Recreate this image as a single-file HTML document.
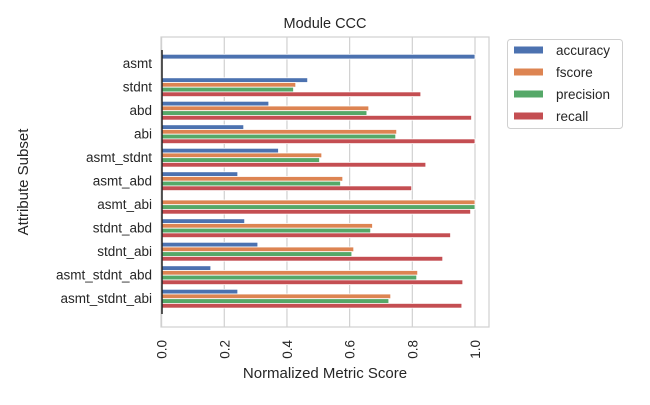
<!DOCTYPE html>
<html><head><meta charset="utf-8"><style>
body{margin:0;background:#fff;}
svg text{font-family:"Liberation Sans",Arial,sans-serif;fill:#262626;}
</style></head><body>
<svg id="c" width="650" height="400" xmlns="http://www.w3.org/2000/svg">
<text x="325" y="28" font-size="14.5" text-anchor="middle">Module CCC</text>
<rect x="161" y="37" width="328" height="290" fill="none" stroke="#d0d0d0" stroke-width="1.2"/>
<g id="grid"></g><g id="bars"></g><g id="ylab"></g><g id="xlab"></g>
<line x1="162" y1="50" x2="162" y2="314" stroke="#222" stroke-width="1.5"/>
<text x="325" y="378" font-size="15" text-anchor="middle">Normalized Metric Score</text>
<text transform="translate(28,182) rotate(-90)" font-size="15" text-anchor="middle">Attribute Subset</text>
<g>
<rect x="507.5" y="39.5" width="115" height="89" rx="3" fill="#fff" stroke="#d0d0d0"/>
<g id="leg"></g>
</g>
</svg>
<script>
const categories=["asmt","stdnt","abd","abi","asmt_stdnt","asmt_abd","asmt_abi","stdnt_abd","stdnt_abi","asmt_stdnt_abd","asmt_stdnt_abi"];
const accuracy=[1.0,0.466,0.342,0.262,0.373,0.243,0,0.265,0.307,0.157,0.243];
const fscore=[0,0.428,0.661,0.75,0.511,0.578,1.0,0.673,0.613,0.817,0.731];
const precision=[0,0.421,0.655,0.747,0.504,0.571,1.0,0.667,0.607,0.814,0.725];
const recall=[0,0.827,0.989,1.0,0.843,0.798,0.986,0.922,0.897,0.961,0.958];
const seriesNames=["accuracy","fscore","precision","recall"];
const xTicks=[0,0.2,0.4,0.6,0.8,1.0];
const xTickLabels=["0.0","0.2","0.4","0.6","0.8","1.0"];
const colors=["#4c72b0","#dd8452","#55a868","#c44e52"];
const NS="http://www.w3.org/2000/svg";
const x=v=>161.6+v*313.4;
const yc=i=>63.7+i*23.5;
const bw=4.7;
function mk(t,a,p){const e=document.createElementNS(NS,t);for(const k in a)e.setAttribute(k,a[k]);document.getElementById(p).appendChild(e);return e;}
xTicks.forEach((t,i)=>{
 const g=mk("line",{x1:x(t),x2:x(t),y1:37,y2:327,stroke:"#d0d0d0","stroke-width":1.2},"grid");
 
 
 const l=mk("text",{transform:`translate(${x(t)+5},340) rotate(-90)`,"font-size":"13.5","text-anchor":"end"},"xlab");
 l.textContent=xTickLabels[i];
 
 
});
const series=[accuracy,fscore,precision,recall];
categories.forEach((c,i)=>{
 const l=mk("text",{x:152,y:yc(i)+4.5,"font-size":"13.5","text-anchor":"end"},"ylab");
 l.textContent=c;
 
 
 series.forEach((s,j)=>{
  const v=s[i];
  const y0=yc(i)-2*bw+j*bw;
  const r=mk("rect",{x:x(0),y:y0,width:Math.max(0,x(v)-x(0)),height:bw,fill:colors[j],stroke:"#fff","stroke-width":0.8},"bars");
  
  
 });
});
seriesNames.forEach((n,j)=>{
 const y=50+j*22;
 const p=mk("rect",{x:514,y:y-3.5,width:29,height:7,fill:colors[j]},"leg");
 
 
 const t=mk("text",{x:556,y:y+5,"font-size":"13.5"},"leg");
 t.textContent=n;
 
 
});
</script>
</body></html>
